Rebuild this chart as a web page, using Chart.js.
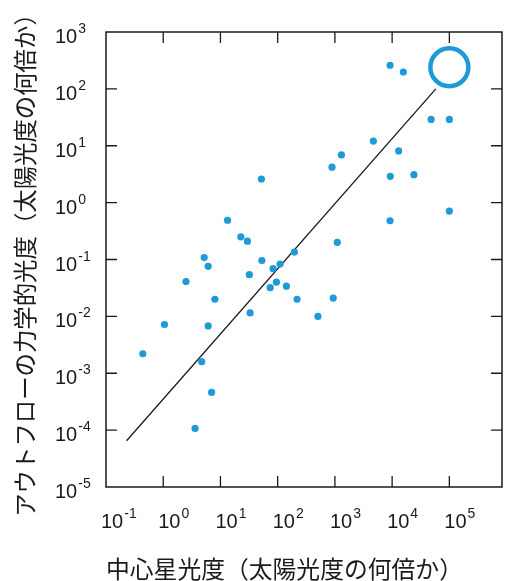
<!DOCTYPE html>
<html>
<head>
<meta charset="utf-8">
<script src="https://cdn.jsdelivr.net/npm/chart.js@4"></script>
<style>
  html,body{margin:0;padding:0;background:#fff;}
  canvas{display:block;}
</style>
</head>
<body>
<canvas id="c" width="506" height="581"></canvas>
<script>
// central star luminosity vs outflow mechanical luminosity (both in L_sun), log-log
const starLum = [9200, 15700, 48000, 100000, 4700, 1300, 13000, 890, 52, 9300,
  24000, 100000, 9200, 13.3, 22.7, 29.6, 1100, 5.2, 6.1, 2.5,
  32, 53, 83, 110, 196, 95, 74, 142, 8.0, 218,
  935, 33, 505, 1.05, 6.1, 0.44, 4.7, 7.0, 3.6];
const flowLum = [260, 198, 29, 29, 12.1, 6.9, 8.1, 4.2, 2.6, 2.9,
  3.1, 0.71, 0.48, 0.49, 0.25, 0.21, 0.20, 0.108, 0.076, 0.041,
  0.054, 0.096, 0.069, 0.083, 0.135, 0.040, 0.032, 0.034, 0.020, 0.020,
  0.021, 0.0115, 0.010, 0.0072, 0.0068, 0.0022, 0.0016, 0.00046, 0.000107];
const bigX = [100000];   // the circled object
const bigY = [240];
const fitX = [0.229, 58000];
const fitY = [0.000065, 100];

const xTickExps = [-1, 0, 1, 2, 3, 4, 5];
const yTickExps = [-5, -4, -3, -2, -1, 0, 1, 2, 3];
const xTitle = '中心星光度（太陽光度の何倍か）';
const yTitle = 'アウトフローの力学的光度（太陽光度の何倍か）';

const ink = '#1a1a1a';
const blue = '#1f9ad6';
const tickLen = 11;

function drawPow(ctx, x, yb, e){
  ctx.font = '20px "Liberation Sans", Arial, sans-serif';
  ctx.fillText('10', x, yb);
  const w = ctx.measureText('10').width;
  ctx.font = '14px "Liberation Sans", Arial, sans-serif';
  ctx.fillText(String(e), x + w + 1, yb - 10);
}

const frame = {
  id: 'frame',
  afterDraw(chart){
    const {ctx, chartArea: a, scales: {x, y}} = chart;
    ctx.save();
    ctx.strokeStyle = ink;
    ctx.lineWidth = 1.5;
    ctx.strokeRect(a.left, a.top, a.right - a.left, a.bottom - a.top);
    ctx.lineWidth = 1.3;
    ctx.beginPath();
    xTickExps.forEach(e => {
      const p = x.getPixelForValue(Math.pow(10, e));
      if (p <= a.left + 1 || p >= a.right - 1) return;
      ctx.moveTo(p, a.top); ctx.lineTo(p, a.top + tickLen);
      ctx.moveTo(p, a.bottom); ctx.lineTo(p, a.bottom - tickLen);
    });
    yTickExps.forEach(e => {
      const p = y.getPixelForValue(Math.pow(10, e));
      if (p <= a.top + 1 || p >= a.bottom - 1) return;
      ctx.moveTo(a.left, p); ctx.lineTo(a.left + tickLen, p);
      ctx.moveTo(a.right, p); ctx.lineTo(a.right - tickLen, p);
    });
    ctx.stroke();
    ctx.fillStyle = ink;
    ctx.textAlign = 'left';
    ctx.textBaseline = 'alphabetic';
    xTickExps.forEach(e => drawPow(ctx, x.getPixelForValue(Math.pow(10, e)) - 5, a.bottom + 41, e));
    yTickExps.forEach(e => drawPow(ctx, 55, y.getPixelForValue(Math.pow(10, e)) + 11, e));
    ctx.restore();
  }
};

const toPts = (xs, ys) => xs.map((v, i) => ({x: v, y: ys[i]}));

new Chart(document.getElementById('c'), {
  type: 'scatter',
  data: {
    datasets: [
      {data: toPts(starLum, flowLum), pointRadius: 3.6, pointBackgroundColor: blue, pointBorderWidth: 0},
      {data: toPts(fitX, fitY), showLine: true, borderColor: ink, borderWidth: 1.3, pointRadius: 0},
      {data: toPts(bigX, bigY), pointRadius: 19, pointBorderColor: blue, pointBorderWidth: 4.5,
       pointBackgroundColor: 'rgba(0,0,0,0)'}
    ]
  },
  options: {
    responsive: false,
    animation: false,
    layout: {autoPadding: false, padding: {top: 32, right: 4, left: 0, bottom: 0}},
    plugins: {legend: {display: false}, tooltip: {enabled: false}},
    scales: {
      x: {
        type: 'logarithmic',
        min: 0.1, max: Math.pow(10, 5.92),
        ticks: {display: false},
        grid: {display: false},
        border: {display: false},
        title: {display: true, text: xTitle, align: 'start', color: ink, padding: 0,
                font: {family: '"Noto Sans CJK JP"', size: 23.8, lineHeight: 1}},
        afterFit(s){ s.height = 94; }
      },
      y: {
        type: 'logarithmic',
        min: 1e-5, max: 1e3,
        ticks: {display: false},
        grid: {display: false},
        border: {display: false},
        title: {display: true, text: yTitle, color: ink, padding: {top: 13, bottom: 0},
                font: {family: '"Noto Sans CJK JP"', size: 23.4, lineHeight: 1}},
        afterFit(s){ s.width = 106; }
      }
    }
  },
  plugins: [frame]
});
</script>
</body>
</html>
